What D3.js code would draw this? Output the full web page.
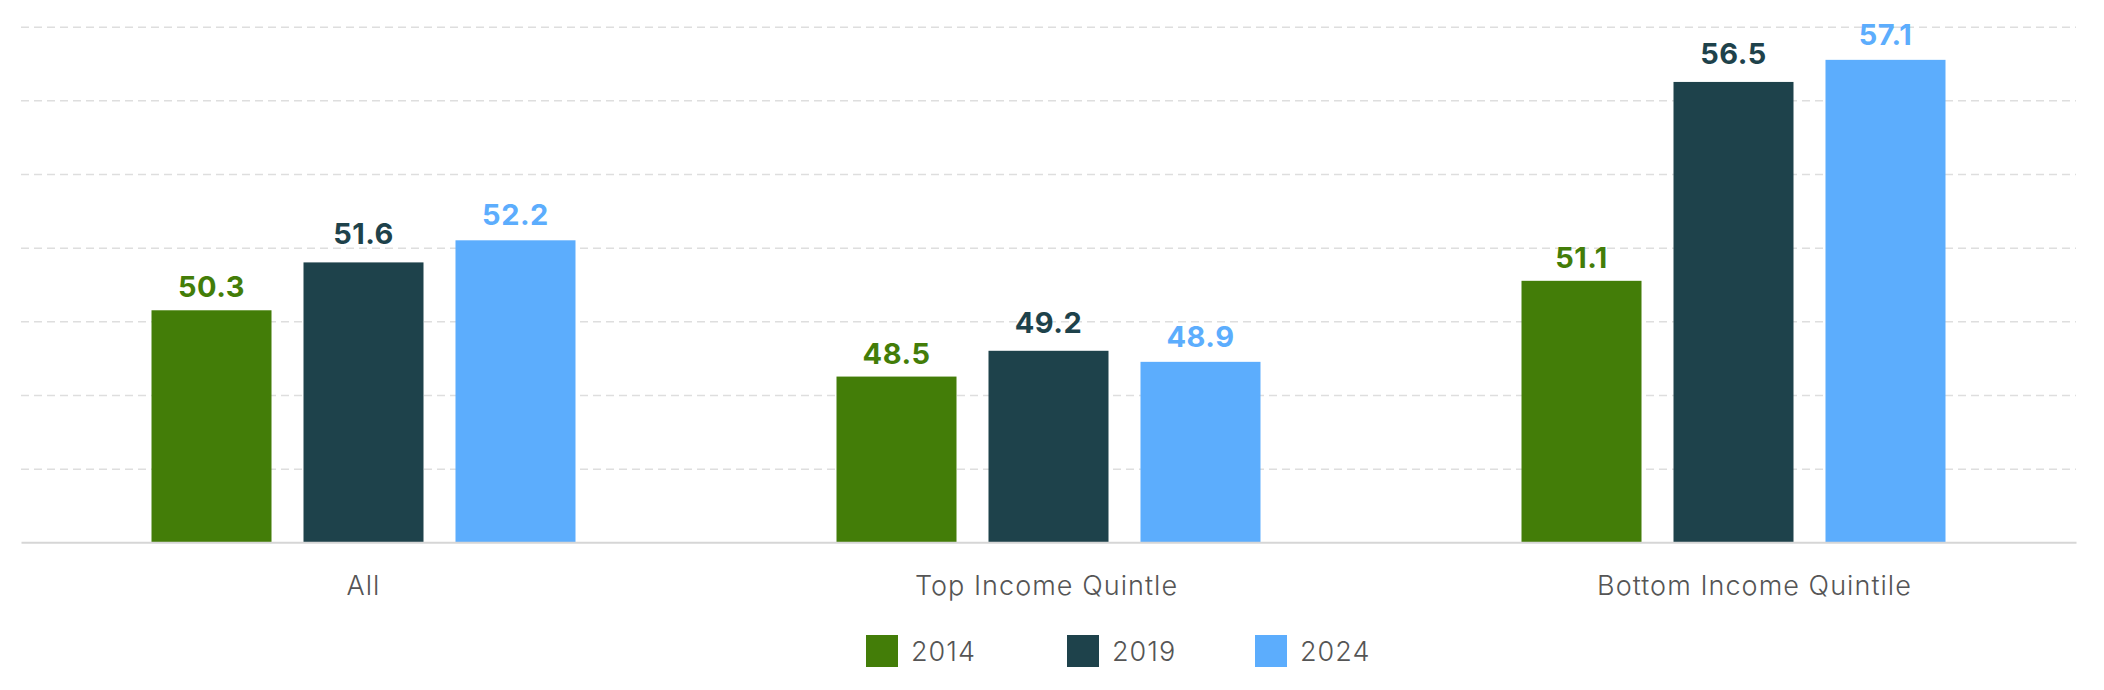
<!DOCTYPE html>
<html>
<head>
<meta charset="utf-8">
<script src="https://cdn.jsdelivr.net/npm/d3@7"></script>
<style>
  html, body { margin: 0; padding: 0; background: #ffffff; }
  svg { display: block; }
</style>
</head>
<body>
<div id="chart"></div>
<script>
// ---- data ----
const categories = ["All", "Top Income Quintle", "Bottom Income Quintile"];
const seriesNames = ["2014", "2019", "2024"];
const values2014 = [50.3, 48.5, 51.1];
const values2019 = [51.6, 49.2, 56.5];
const values2024 = [52.2, 48.9, 57.1];
const yTicks = [44, 46, 48, 50, 52, 54, 56, 58];

// ---- layout / style ----
const W = 2104, H = 690;
const margin = { left: 21, right: 28, top: 27, bottom: 148 };
const colors = { "2014": "#437d08", "2019": "#1e424b", "2024": "#5cadfd" };
const labelGap = { "2014": 13, "2019": 18, "2024": 15 };
const catLabelShift = { "All": 0, "Top Income Quintle": -2, "Bottom Income Quintile": 21 };
const seriesValues = { "2014": values2014, "2019": values2019, "2024": values2024 };

const svg = d3.select("#chart").append("svg")
  .attr("width", W).attr("height", H);

const x0 = d3.scaleBand()
  .domain(categories)
  .range([margin.left, W - margin.right])
  .padding(0);

const x1 = d3.scaleBand()
  .domain(seriesNames)
  .range([0, x0.bandwidth()])
  .paddingInner(0.2105)
  .paddingOuter(0.8586);

const y = d3.scaleLinear()
  .domain([44, 58])
  .range([542.3, 26.7]);

// gridlines (dashed) via axis
const grid = svg.append("g")
  .attr("transform", `translate(${margin.left},0)`)
  .call(d3.axisLeft(y).tickValues(yTicks.slice(1)).tickSize(-(W - margin.left - margin.right)).tickFormat(""));
grid.select(".domain").remove();
grid.selectAll(".tick line")
  .attr("stroke", "#dedede")
  .attr("stroke-width", 1.5)
  .attr("stroke-dasharray", "8,5");

// bars
const rows = categories.map((c, i) => ({
  category: c,
  items: seriesNames.map(s => ({ series: s, value: seriesValues[s][i] }))
}));

const groups = svg.append("g").selectAll("g")
  .data(rows).join("g")
  .attr("transform", d => `translate(${x0(d.category)},0)`);

groups.selectAll("rect")
  .data(d => d.items).join("rect")
  .attr("x", d => x1(d.series))
  .attr("width", x1.bandwidth())
  .attr("y", d => y(d.value))
  .attr("height", d => y(44) - y(d.value))
  .attr("fill", d => colors[d.series]);

groups.selectAll("text.val")
  .data(d => d.items).join("text")
  .attr("class", "val")
  .attr("x", d => x1(d.series) + x1.bandwidth() / 2)
  .attr("y", d => y(d.value) - labelGap[d.series])
  .attr("text-anchor", "middle")
  .attr("font-family", "Inter, 'Noto Sans', sans-serif")
  .attr("font-weight", 700)
  .attr("font-size", 29)
  .attr("letter-spacing", 0.5)
  .attr("fill", d => colors[d.series])
  .text(d => d.value.toFixed(1));

// baseline / x axis
const xAxis = svg.append("g")
  .attr("transform", `translate(0,${y(44)})`)
  .call(d3.axisBottom(x0).tickSize(0).tickPadding(34));
xAxis.select(".domain")
  .attr("stroke", "#d6d6d6")
  .attr("stroke-width", 2);
xAxis.selectAll(".tick text")
  .attr("font-family", "Inter, 'Noto Sans', sans-serif")
  .attr("font-weight", 300)
  .attr("font-size", 27)
  .attr("letter-spacing", 1.05)
  .attr("fill", "#555555")
  .attr("dx", d => catLabelShift[d])
  .attr("dy", "0.71em");

// legend
const legendX = { "2014": 866, "2019": 1067, "2024": 1255 };
const legend = svg.append("g").selectAll("g")
  .data(seriesNames).join("g")
  .attr("transform", d => `translate(${legendX[d]},635)`);
legend.append("rect")
  .attr("width", 32).attr("height", 32)
  .attr("fill", d => colors[d]);
legend.append("text")
  .attr("x", 45).attr("y", 26)
  .attr("font-family", "Inter, 'Noto Sans', sans-serif")
  .attr("font-weight", 300)
  .attr("font-size", 27)
  .attr("letter-spacing", 1)
  .attr("fill", "#555555")
  .text(d => d);
</script>
</body>
</html>
